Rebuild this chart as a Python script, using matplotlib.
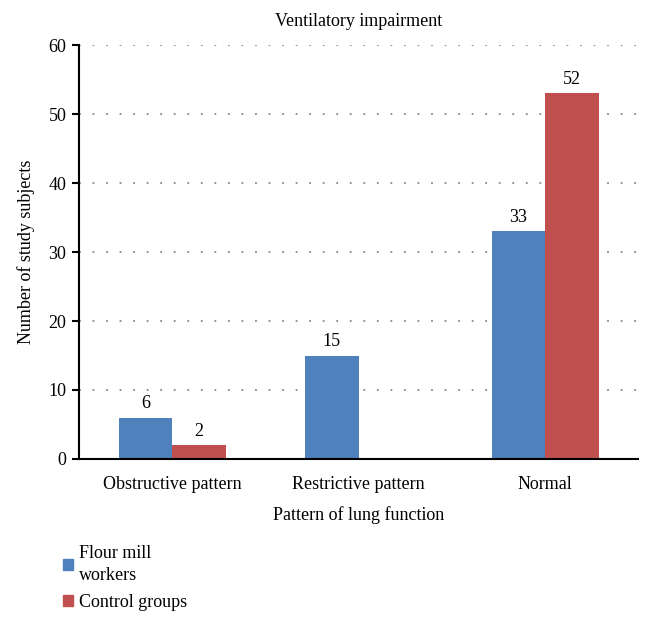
import numpy as np
import matplotlib.pyplot as plt
from matplotlib.patches import Patch

plt.rcParams['font.family'] = ['Liberation Serif', 'DejaVu Serif']

categories = ['Obstructive pattern', 'Restrictive pattern', 'Normal']
workers = [6, 15, 33]
controls = [2, 0, 53]
workers_lbl = ['6', '15', '33']
controls_lbl = ['2', '', '52']

blue = '#4F81BD'
red = '#C0504D'
fs = 13

fig = plt.figure(figsize=(6.52, 6.27), dpi=100)
ax = fig.add_axes([0.121, 0.268, 0.858, 0.66])

x = np.arange(len(categories))
w = 0.287
b1 = ax.bar(x - w/2, workers, w, color=blue)
b2 = ax.bar(x + w/2, controls, w, color=red)

for bars, labs in ((b1, workers_lbl), (b2, controls_lbl)):
    for r, t in zip(bars, labs):
        if t:
            ax.annotate(t, (r.get_x() + r.get_width()/2, r.get_height()),
                        xytext=(0, 4), textcoords='offset points',
                        ha='center', va='bottom', fontsize=fs)

ax.set_xlim(-0.5, 2.5)
ax.set_ylim(0, 60)
ax.set_yticks(range(0, 61, 10))
ax.set_xticks(x)
ax.set_xticklabels(categories, fontsize=fs)
ax.tick_params(axis='x', length=0, pad=12)
ax.tick_params(axis='y', labelsize=fs, length=5, width=1.5, pad=4, direction='out')
for gy in range(10, 61, 10):
    ax.axhline(gy, color='#888888', linestyle=(0, (1, 6.5)), linewidth=1.3, zorder=0)

ax.spines['top'].set_visible(False)
ax.spines['right'].set_visible(False)
ax.spines['left'].set_linewidth(1.5)
ax.spines['bottom'].set_linewidth(1.5)

ax.set_title('Ventilatory impairment', fontsize=fs, pad=14)
ax.set_xlabel('Pattern of lung function', fontsize=fs, labelpad=10)
ax.set_ylabel('Number of study subjects', fontsize=fs, labelpad=10)

handles = [Patch(color=blue, label='Flour mill\nworkers'),
           Patch(color=red, label='Control groups')]
leg = fig.legend(handles=handles, loc='upper left', bbox_to_anchor=(0.086, 0.142),
                 frameon=False, fontsize=fs, handlelength=0.55, handleheight=0.55,
                 handletextpad=0.3, labelspacing=0.55, borderaxespad=0)
for t in leg.get_texts():
    t.set_linespacing(1.35)

fig.savefig('out.png', dpi=100)
